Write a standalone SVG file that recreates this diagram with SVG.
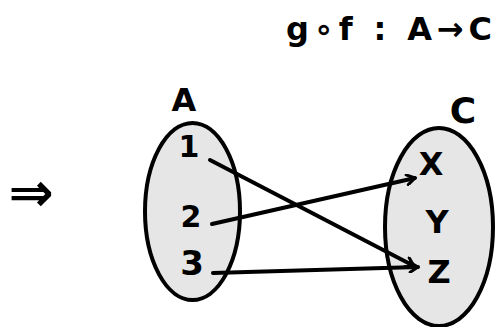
<svg xmlns="http://www.w3.org/2000/svg" width="498" height="327" viewBox="0 0 498 327">
<defs>
<style>
.set{fill:#e6e6e6;stroke:#000;stroke-width:4}
.t{font-family:"DejaVu Sans","Liberation Sans",sans-serif;font-weight:bold;fill:#000;text-anchor:middle}
.e{stroke:#000;stroke-width:4;fill:none;stroke-linecap:round}
</style>
<marker id="ah" viewBox="0 0 12 12" refX="10" refY="6" markerWidth="12" markerHeight="12" markerUnits="userSpaceOnUse" orient="auto">
<polyline points="2,1 10,6 2,11" fill="none" stroke="#000" stroke-width="3" stroke-linecap="round" stroke-linejoin="round"/>
</marker>
</defs>
<rect width="498" height="327" fill="#fff"/>
<text class="t" x="389" y="40" font-size="32" textLength="206" lengthAdjust="spacing">g∘f : A→C</text>
<text class="t" x="31" y="211" font-size="54">⇒</text>
<g id="A">
<ellipse class="set" cx="192.5" cy="211.5" rx="47.5" ry="88.5"/>
<text class="t" x="184" y="111" font-size="32">A</text>
<text class="t" x="189" y="157" font-size="30">1</text>
<text class="t" x="191" y="227" font-size="30">2</text>
<text class="t" x="192" y="275" font-size="34">3</text>
</g>
<g id="C">
<ellipse class="set" cx="439" cy="227" rx="54" ry="99"/>
<text class="t" x="463" y="123" font-size="36">C</text>
<text class="t" x="431" y="175" font-size="32">X</text>
<text class="t" x="437" y="233" font-size="32">Y</text>
<text class="t" x="439" y="283" font-size="32">Z</text>
</g>
<g id="connectors">
<line class="e" x1="210" y1="160" x2="414" y2="266" marker-end="url(#ah)"/>
<line class="e" x1="212" y1="224" x2="415" y2="178" marker-end="url(#ah)"/>
<line class="e" x1="213" y1="273" x2="418" y2="267" marker-end="url(#ah)"/>
</g>
</svg>
